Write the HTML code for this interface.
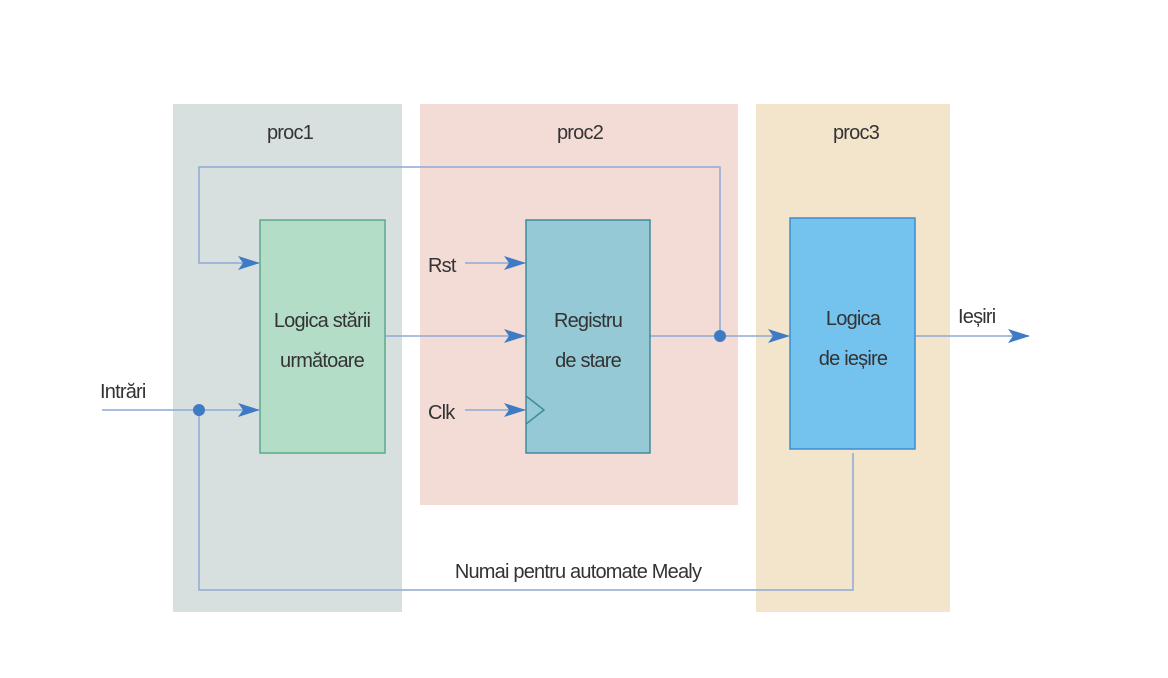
<!DOCTYPE html>
<html><head><meta charset="utf-8"><style>
body{margin:0;background:#fff}
text{font-family:"Liberation Sans Narrow","Liberation Sans",sans-serif;font-size:20px;fill:#333;letter-spacing:-0.8px}
</style></head><body>
<svg width="1168" height="673" viewBox="0 0 1168 673" xmlns="http://www.w3.org/2000/svg">
<defs><marker id="a" markerWidth="22" markerHeight="14" refX="21" refY="7" orient="auto" markerUnits="userSpaceOnUse"><path d="M0,0 L22,7 L0,14 L5,7 Z" fill="#3f7bc4"/></marker></defs>
<rect x="173" y="104" width="229" height="508" fill="#d8e0df"/>
<rect x="420" y="104" width="318" height="401" fill="#f4dcd6"/>
<rect x="756" y="104" width="194" height="508" fill="#f3e5cb"/>
<text x="290" y="139" text-anchor="middle">proc1</text>
<text x="580" y="139" text-anchor="middle">proc2</text>
<text x="856" y="139" text-anchor="middle">proc3</text>
<g stroke="#8fa9d6" stroke-width="1.5" fill="none">
<polyline points="720,336 720,167 199,167 199,263 259,263" marker-end="url(#a)"/>
<line x1="102" y1="410" x2="259" y2="410" marker-end="url(#a)"/>
<polyline points="199,410 199,590 853,590 853,453"/>
<line x1="385" y1="336" x2="525" y2="336" marker-end="url(#a)"/>
<line x1="465" y1="263" x2="525" y2="263" marker-end="url(#a)"/>
<line x1="465" y1="410" x2="525" y2="410" marker-end="url(#a)"/>
<line x1="650" y1="336" x2="789" y2="336" marker-end="url(#a)"/>
<line x1="915" y1="336" x2="1029" y2="336" marker-end="url(#a)"/>
</g>
<circle cx="199" cy="410" r="6" fill="#3f7bc4"/>
<circle cx="720" cy="336" r="6" fill="#3f7bc4"/>
<rect x="260" y="220" width="125" height="233" fill="#b4ddc8" stroke="#5aa98a" stroke-width="1.5"/>
<rect x="526" y="220" width="124" height="233" fill="#95c9d6" stroke="#3f8c9c" stroke-width="1.5"/>
<polyline points="526,396 544,410 526,424" fill="none" stroke="#3f8c9c" stroke-width="1.5"/>
<rect x="790" y="218" width="125" height="231" fill="#74c2ee" stroke="#3f8bd0" stroke-width="1.5"/>
<text x="322" y="327" text-anchor="middle">Logica stării</text>
<text x="322" y="367" text-anchor="middle">următoare</text>
<text x="588" y="327" text-anchor="middle">Registru</text>
<text x="588" y="367" text-anchor="middle">de stare</text>
<text x="853" y="325" text-anchor="middle">Logica</text>
<text x="853" y="365" text-anchor="middle">de ieșire</text>
<text x="428" y="272">Rst</text>
<text x="428" y="419">Clk</text>
<text x="100" y="398">Intrări</text>
<text x="958" y="323">Ieșiri</text>
<text x="578" y="578" text-anchor="middle">Numai pentru automate Mealy</text>
</svg>
</body></html>
